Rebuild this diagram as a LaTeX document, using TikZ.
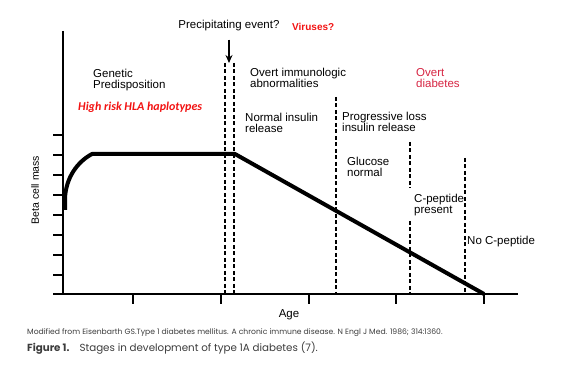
\documentclass[tikz,border=0pt]{standalone}
\usepackage{fontspec}
\setmainfont{Liberation Sans}
\newfontfamily\hlafont{Carlito}
\newfontfamily\capfont{Poppins}
\usetikzlibrary{positioning, arrows.meta}
\definecolor{hlared}{RGB}{242,18,18}
\definecolor{overtred}{RGB}{214,36,66}
\definecolor{capgray}{RGB}{60,60,60}
\tikzset{
  stage/.style={inner sep=0pt, anchor=west, align=left, font=\fontsize{11.5}{11}\selectfont},
  hla/.style={inner sep=0pt, anchor=west, text=hlared, font=\hlafont\fontsize{12}{12}\selectfont\bfseries\itshape},
  axisline/.style={line width=2.6pt},
  tickline/.style={line width=1.2pt},
  massline/.style={line width=4pt, line join=round},
  onsetline/.style={line width=1.4pt, dash pattern=on 4pt off 2.5pt},
  eventarrow/.style={line width=2pt, -{Stealth[length=8pt,width=7pt]}}
}
\begin{document}
\begin{tikzpicture}[x=1pt, y=-1pt]
  \useasboundingbox (0,0) rectangle (579,379);

  % axes
  \coordinate (origin) at (63,294);
  \coordinate (ytop) at (63,31);
  \coordinate (xend) at (518,294);
  \draw[axisline] (ytop) -- (origin) -- (xend);
  \foreach \y in {135,155,...,275} \draw[tickline] (53,\y) -- (origin |- 0,\y);
  \draw[tickline] (53,294) -- (origin);
  \foreach \x in {133,221,309,396,484} \draw[tickline] (\x,294) -- (\x,304);

  % beta cell mass
  \draw[massline] (65,210) -- (65,198) .. controls (66,178) and (77,162) .. (92,154)
    -- (235,154) -- (484,294);

  % stage borders
  \coordinate (onset) at (229,63);
  \draw[onsetline] (225,63) -- (225,294);
  \draw[onsetline] (234,63) -- (234,294);
  \draw[onsetline] (336,97) -- (336,294);
  \draw[onsetline] (410,142) -- (410,188) (410,221) -- (410,294);
  \draw[onsetline] (465,158) -- (465,294);

  % labels
  \node (precip) [stage, anchor=center] at (229,26) {Precipitating event?};
  \node (viruses) [inner sep=0pt, anchor=west, text=hlared, font=\fontsize{10}{10}\selectfont\bfseries] at (292,27) {Viruses?};
  \node (genetic) [stage] at (93,80.5) {Genetic\\Predisposition};
  \node (hlatypes) [hla] at (78,107) {High risk HLA haplotypes};
  \node (immuno) [stage] at (250,77.5) {Overt immunologic\\abnormalities};
  \node (normal) [stage] at (245,122.5) {Normal insulin\\release};
  \node (overt) [stage, text=overtred] at (416,78.5) {Overt\\diabetes};
  \node (progloss) [stage] at (342,121.5) {Progressive loss\\insulin release};
  \node (glucose) [stage] at (347,166.5) {Glucose\\normal};
  \node (cpep) [stage] at (414,205.5) {C-peptide\\present};
  \node (nocpep) [stage] at (467,242) {No C-peptide};
  \node (age) [stage, anchor=center] at (289,315) {Age};
  \node (betamass) [stage, anchor=center, rotate=90, font=\fontsize{10.5}{10.5}\selectfont] at (35,190) {Beta cell mass};

  \draw[eventarrow, shorten <=8pt] (precip) -- (onset);

  % caption
  \node (source) [inner sep=0pt, anchor=west, text=capgray, font=\capfont\fontsize{7.65}{7.65}\selectfont] at (27,333)
    {Modified from Eisenbarth GS.Type 1 diabetes mellitus. A chronic immune disease. N Engl J Med. 1986; 314:1360.};
  \node (figcap) [inner sep=0pt, anchor=west, text=capgray, font=\capfont\fontsize{10.3}{10.3}\selectfont] at (27,348)
    {\textbf{Figure 1.}\hspace{10pt}Stages in development of type 1A diabetes (7).};
\end{tikzpicture}
\end{document}
